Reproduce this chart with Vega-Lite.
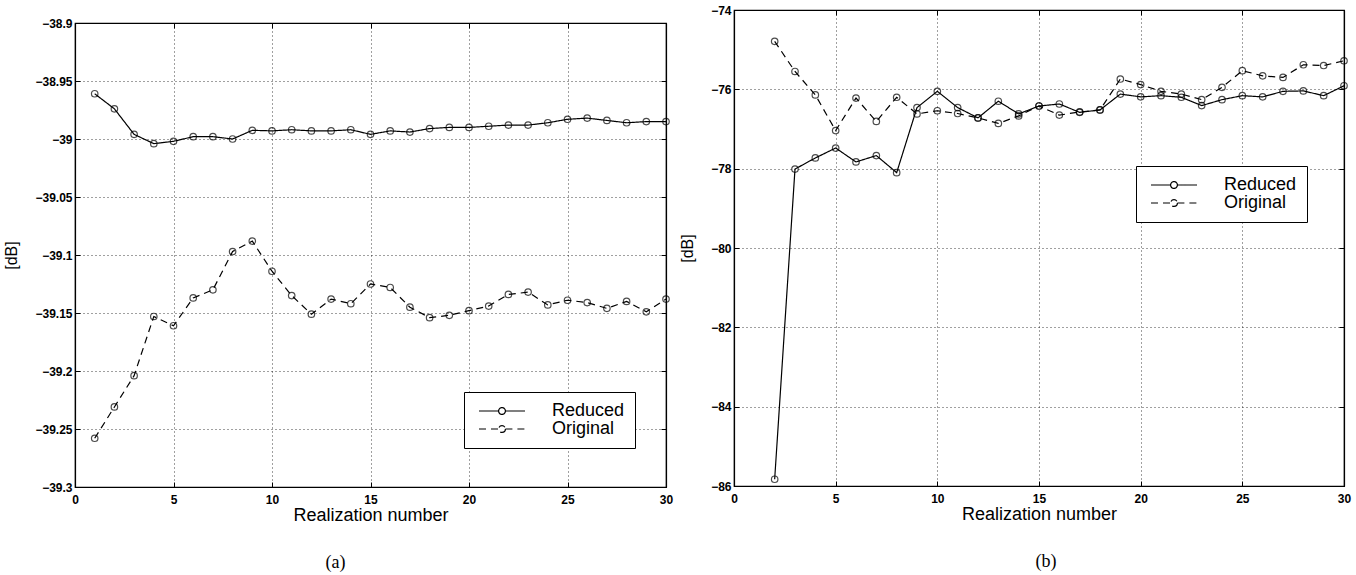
{
  "$schema": "https://vega.github.io/schema/vega-lite/v6.json",
  "padding": {"left": 3, "top": 1, "right": 0, "bottom": 0},
  "background": "white",
  "datasets": {
    "left": [
      {"n": 1, "dB": -38.961, "series": "Reduced"}, {"n": 2, "dB": -38.974, "series": "Reduced"}, {"n": 3, "dB": -38.996, "series": "Reduced"}, {"n": 4, "dB": -39.004, "series": "Reduced"}, {"n": 5, "dB": -39.002, "series": "Reduced"}, {"n": 6, "dB": -38.998, "series": "Reduced"}, {"n": 7, "dB": -38.998, "series": "Reduced"}, {"n": 8, "dB": -39.0, "series": "Reduced"}, {"n": 9, "dB": -38.9925, "series": "Reduced"}, {"n": 10, "dB": -38.993, "series": "Reduced"},
      {"n": 11, "dB": -38.992, "series": "Reduced"}, {"n": 12, "dB": -38.993, "series": "Reduced"}, {"n": 13, "dB": -38.993, "series": "Reduced"}, {"n": 14, "dB": -38.992, "series": "Reduced"}, {"n": 15, "dB": -38.996, "series": "Reduced"}, {"n": 16, "dB": -38.993, "series": "Reduced"}, {"n": 17, "dB": -38.994, "series": "Reduced"}, {"n": 18, "dB": -38.991, "series": "Reduced"}, {"n": 19, "dB": -38.99, "series": "Reduced"}, {"n": 20, "dB": -38.99, "series": "Reduced"},
      {"n": 21, "dB": -38.989, "series": "Reduced"}, {"n": 22, "dB": -38.988, "series": "Reduced"}, {"n": 23, "dB": -38.988, "series": "Reduced"}, {"n": 24, "dB": -38.986, "series": "Reduced"}, {"n": 25, "dB": -38.983, "series": "Reduced"}, {"n": 26, "dB": -38.982, "series": "Reduced"}, {"n": 27, "dB": -38.984, "series": "Reduced"}, {"n": 28, "dB": -38.986, "series": "Reduced"}, {"n": 29, "dB": -38.985, "series": "Reduced"}, {"n": 30, "dB": -38.985, "series": "Reduced"},
      {"n": 1, "dB": -39.258, "series": "Original"}, {"n": 2, "dB": -39.231, "series": "Original"}, {"n": 3, "dB": -39.204, "series": "Original"}, {"n": 4, "dB": -39.153, "series": "Original"}, {"n": 5, "dB": -39.161, "series": "Original"}, {"n": 6, "dB": -39.137, "series": "Original"}, {"n": 7, "dB": -39.13, "series": "Original"}, {"n": 8, "dB": -39.097, "series": "Original"}, {"n": 9, "dB": -39.088, "series": "Original"}, {"n": 10, "dB": -39.114, "series": "Original"},
      {"n": 11, "dB": -39.135, "series": "Original"}, {"n": 12, "dB": -39.151, "series": "Original"}, {"n": 13, "dB": -39.138, "series": "Original"}, {"n": 14, "dB": -39.142, "series": "Original"}, {"n": 15, "dB": -39.125, "series": "Original"}, {"n": 16, "dB": -39.128, "series": "Original"}, {"n": 17, "dB": -39.145, "series": "Original"}, {"n": 18, "dB": -39.154, "series": "Original"}, {"n": 19, "dB": -39.152, "series": "Original"}, {"n": 20, "dB": -39.148, "series": "Original"},
      {"n": 21, "dB": -39.144, "series": "Original"}, {"n": 22, "dB": -39.134, "series": "Original"}, {"n": 23, "dB": -39.132, "series": "Original"}, {"n": 24, "dB": -39.143, "series": "Original"}, {"n": 25, "dB": -39.139, "series": "Original"}, {"n": 26, "dB": -39.141, "series": "Original"}, {"n": 27, "dB": -39.146, "series": "Original"}, {"n": 28, "dB": -39.14, "series": "Original"}, {"n": 29, "dB": -39.149, "series": "Original"}, {"n": 30, "dB": -39.138, "series": "Original"}
    ],
    "right": [
      {"n": 2, "dB": -85.83, "series": "Reduced"}, {"n": 3, "dB": -78.01, "series": "Reduced"}, {"n": 4, "dB": -77.73, "series": "Reduced"}, {"n": 5, "dB": -77.48, "series": "Reduced"}, {"n": 6, "dB": -77.83, "series": "Reduced"}, {"n": 7, "dB": -77.67, "series": "Reduced"}, {"n": 8, "dB": -78.1, "series": "Reduced"}, {"n": 9, "dB": -76.46, "series": "Reduced"}, {"n": 10, "dB": -76.05, "series": "Reduced"},
      {"n": 11, "dB": -76.46, "series": "Reduced"}, {"n": 12, "dB": -76.72, "series": "Reduced"}, {"n": 13, "dB": -76.3, "series": "Reduced"}, {"n": 14, "dB": -76.62, "series": "Reduced"}, {"n": 15, "dB": -76.42, "series": "Reduced"}, {"n": 16, "dB": -76.37, "series": "Reduced"}, {"n": 17, "dB": -76.58, "series": "Reduced"}, {"n": 18, "dB": -76.52, "series": "Reduced"}, {"n": 19, "dB": -76.12, "series": "Reduced"}, {"n": 20, "dB": -76.19, "series": "Reduced"},
      {"n": 21, "dB": -76.16, "series": "Reduced"}, {"n": 22, "dB": -76.2, "series": "Reduced"}, {"n": 23, "dB": -76.41, "series": "Reduced"}, {"n": 24, "dB": -76.26, "series": "Reduced"}, {"n": 25, "dB": -76.16, "series": "Reduced"}, {"n": 26, "dB": -76.19, "series": "Reduced"}, {"n": 27, "dB": -76.05, "series": "Reduced"}, {"n": 28, "dB": -76.04, "series": "Reduced"}, {"n": 29, "dB": -76.16, "series": "Reduced"}, {"n": 30, "dB": -75.91, "series": "Reduced"},
      {"n": 2, "dB": -74.79, "series": "Original"}, {"n": 3, "dB": -75.55, "series": "Original"}, {"n": 4, "dB": -76.14, "series": "Original"}, {"n": 5, "dB": -77.04, "series": "Original"}, {"n": 6, "dB": -76.22, "series": "Original"}, {"n": 7, "dB": -76.81, "series": "Original"}, {"n": 8, "dB": -76.2, "series": "Original"}, {"n": 9, "dB": -76.62, "series": "Original"}, {"n": 10, "dB": -76.54, "series": "Original"},
      {"n": 11, "dB": -76.61, "series": "Original"}, {"n": 12, "dB": -76.72, "series": "Original"}, {"n": 13, "dB": -76.86, "series": "Original"}, {"n": 14, "dB": -76.67, "series": "Original"}, {"n": 15, "dB": -76.42, "series": "Original"}, {"n": 16, "dB": -76.65, "series": "Original"}, {"n": 17, "dB": -76.57, "series": "Original"}, {"n": 18, "dB": -76.52, "series": "Original"}, {"n": 19, "dB": -75.74, "series": "Original"}, {"n": 20, "dB": -75.88, "series": "Original"},
      {"n": 21, "dB": -76.05, "series": "Original"}, {"n": 22, "dB": -76.12, "series": "Original"}, {"n": 23, "dB": -76.26, "series": "Original"}, {"n": 24, "dB": -75.95, "series": "Original"}, {"n": 25, "dB": -75.53, "series": "Original"}, {"n": 26, "dB": -75.66, "series": "Original"}, {"n": 27, "dB": -75.7, "series": "Original"}, {"n": 28, "dB": -75.38, "series": "Original"}, {"n": 29, "dB": -75.4, "series": "Original"}, {"n": 30, "dB": -75.28, "series": "Original"}
    ]
  },
  "resolve": {
    "scale": {"x": "independent", "y": "independent", "strokeDash": "independent"},
    "legend": {"strokeDash": "independent"}
  },
  "hconcat": [
    {
      "spacing": 0,
      "vconcat": [
        {
          "width": 591,
          "height": 6,
          "view": {"stroke": null},
          "data": {"values": []},
          "mark": {"type": "point", "opacity": 0},
          "encoding": {}
        },
        {
          "width": 591,
          "height": 464,
          "data": {"name": "left"},
          "title": {"text": "(a)", "orient": "bottom", "font": "Liberation Serif", "fontSize": 18, "fontWeight": "normal", "color": "black", "offset": 30, "frame": "group", "anchor": "middle", "dx": -35},
          "resolve": {"axis": {"x": "independent", "y": "independent"}},
          "layer": [
            {
              "mark": {"type": "line", "color": "black", "strokeWidth": 1.2},
              "encoding": {
                "x": {"field": "n", "type": "quantitative", "scale": {"domain": [0, 30], "nice": false},
                  "axis": {"orient": "bottom", "values": [0, 5, 10, 15, 20, 25, 30], "title": "Realization number", "grid": true}},
                "y": {"field": "dB", "type": "quantitative", "scale": {"domain": [-39.3, -38.9], "nice": false, "zero": false},
                  "axis": {"orient": "left", "values": [-39.3, -39.25, -39.2, -39.15, -39.1, -39.05, -39, -38.95, -38.9], "format": "~g", "title": "[dB]", "grid": true}},
                "strokeDash": {"field": "series", "type": "nominal",
                  "scale": {"domain": ["Reduced", "Original"], "range": [[1, 0], [7, 5]]},
                  "legend": {"orient": "none", "legendX": 389, "legendY": 382, "title": null, "strokeColor": "black", "fillColor": "white", "padding": 10,
                    "labelFontSize": 18, "labelFont": "Liberation Sans", "labelColor": "black",
                    "symbolType": "M-5.75,0H-0.85M0.85,0H5.75M0.85,0A0.85,0.85,0,1,1,-0.85,0A0.85,0.85,0,1,1,0.85,0Z",
                    "symbolSize": 64, "symbolStrokeWidth": 1.2, "symbolStrokeColor": "black", "symbolFillColor": "white",
                    "symbolOffset": 19, "labelOffset": 41, "rowPadding": -2}}
              }
            },
            {
              "mark": {"type": "point", "shape": "circle", "filled": false, "color": "black", "size": 42, "strokeWidth": 1.2},
              "encoding": {
                "x": {"field": "n", "type": "quantitative", "scale": {"domain": [0, 30], "nice": false},
                  "axis": {"orient": "top", "values": [0, 5, 10, 15, 20, 25, 30], "labels": false, "title": null, "grid": false}},
                "y": {"field": "dB", "type": "quantitative", "scale": {"domain": [-39.3, -38.9], "nice": false, "zero": false},
                  "axis": {"orient": "right", "values": [-39.3, -39.25, -39.2, -39.15, -39.1, -39.05, -39, -38.95, -38.9], "labels": false, "title": null, "grid": false}}
              }
            }
          ]
        }
      ]
    },
    {
      "width": 610,
      "height": 476,
      "data": {"name": "right"},
      "title": {"text": "(b)", "orient": "bottom", "font": "Liberation Serif", "fontSize": 18, "fontWeight": "normal", "color": "black", "offset": 30, "frame": "group", "anchor": "middle", "dx": 7},
      "resolve": {"axis": {"x": "independent", "y": "independent"}},
      "layer": [
        {
          "mark": {"type": "line", "color": "black", "strokeWidth": 1.2},
          "encoding": {
            "x": {"field": "n", "type": "quantitative", "scale": {"domain": [0, 30], "nice": false},
              "axis": {"orient": "bottom", "values": [0, 5, 10, 15, 20, 25, 30], "title": "Realization number", "grid": true}},
            "y": {"field": "dB", "type": "quantitative", "scale": {"domain": [-86, -74], "nice": false, "zero": false},
              "axis": {"orient": "left", "values": [-86, -84, -82, -80, -78, -76, -74], "title": "[dB]", "grid": true}},
            "strokeDash": {"field": "series", "type": "nominal",
              "scale": {"domain": ["Reduced", "Original"], "range": [[1, 0], [7, 5]]},
              "legend": {"orient": "none", "legendX": 402, "legendY": 156, "title": null, "strokeColor": "black", "fillColor": "white", "padding": 10,
                "labelFontSize": 18, "labelFont": "Liberation Sans", "labelColor": "black",
                "symbolType": "M-5.75,0H-0.85M0.85,0H5.75M0.85,0A0.85,0.85,0,1,1,-0.85,0A0.85,0.85,0,1,1,0.85,0Z",
                "symbolSize": 64, "symbolStrokeWidth": 1.2, "symbolStrokeColor": "black", "symbolFillColor": "white",
                "symbolOffset": 19, "labelOffset": 41, "rowPadding": 0}}
          }
        },
        {
          "mark": {"type": "point", "shape": "circle", "filled": false, "color": "black", "size": 42, "strokeWidth": 1.2},
          "encoding": {
            "x": {"field": "n", "type": "quantitative", "scale": {"domain": [0, 30], "nice": false},
              "axis": {"orient": "top", "values": [0, 5, 10, 15, 20, 25, 30], "labels": false, "title": null, "grid": false, "minExtent": 8}},
            "y": {"field": "dB", "type": "quantitative", "scale": {"domain": [-86, -74], "nice": false, "zero": false},
              "axis": {"orient": "right", "values": [-86, -84, -82, -80, -78, -76, -74], "labels": false, "title": null, "grid": false}}
          }
        }
      ]
    }
  ],
  "config": {
    "view": {"stroke": "black", "strokeWidth": 1.2},
    "font": "Liberation Sans",
    "concat": {"spacing": 5},
    "axis": {
      "labelFont": "Liberation Sans", "labelFontSize": 12, "labelColor": "black", "labelFontWeight": "bold", "labelFlush": false,
      "titleFont": "Liberation Sans", "titleFontWeight": "normal", "titleColor": "black",
      "domainColor": "black", "domainWidth": 1.2, "tickColor": "black", "tickSize": -5, "tickWidth": 1,
      "gridColor": "black", "gridDash": [1, 3], "gridOpacity": 0.75, "gridWidth": 1
    },
    "axisBottom": {"labelPadding": 12, "titleFontSize": 18, "titlePadding": 1},
    "axisLeft": {"labelPadding": 8, "titleFontSize": 16, "titlePadding": 15}
  }
}
